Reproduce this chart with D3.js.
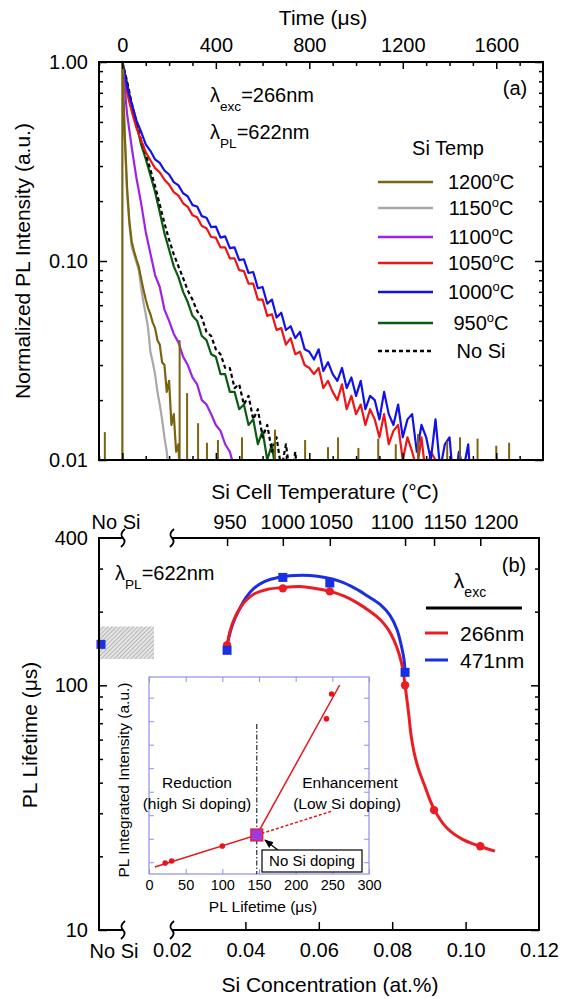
<!DOCTYPE html>
<html>
<head>
<meta charset="utf-8">
<script src="https://cdn.jsdelivr.net/npm/d3@7"></script>
<style>
  body { margin: 0; background: #fff; }
  svg text { font-family: "Liberation Sans", Arial, Helvetica, sans-serif; fill: #000; }
</style>
</head>
<body>
<svg id="fig" width="570" height="999"></svg>
<script>
// ---------------- Panel (a): PL decay curves ----------------
const timeTicks = [0, 400, 800, 1200, 1600];
const timeMinorTicks = [-100, 100, 200, 300, 500, 600, 700, 900, 1000, 1100, 1300, 1400, 1500, 1700];
const intensityTicks = [0.01, 0.1, 1];
const intensityMinorTicks = [0.02, 0.03, 0.04, 0.05, 0.06, 0.07, 0.08, 0.09, 0.2, 0.3, 0.4, 0.5, 0.6, 0.7, 0.8, 0.9];

// sampling interval of each recorded decay (µs)
const step1200 = 10, step1150 = 10, step1100 = 20, step1050 = 20, step1000 = 20, step950 = 20, stepNoSi = 20;

const pl1200 = [1.0, 0.44, 0.235, 0.158, 0.125, 0.112, 0.102, 0.094, 0.082, 0.072, 0.064, 0.058, 0.054, 0.049,
  0.046, 0.040, 0.038, 0.031, 0.030, 0.022, 0.025, 0.015, 0.017, 0.011, 0.012, 0.006];
const pl1150 = [1.0, 0.42, 0.22, 0.152, 0.118, 0.108, 0.099, 0.090, 0.074, 0.062, 0.054, 0.046, 0.035, 0.031,
  0.027, 0.022, 0.019, 0.016, 0.013, 0.011, 0.008, 0.005];
const pl1100 = [1.0, 0.55, 0.372, 0.262, 0.196, 0.140, 0.109, 0.085, 0.074, 0.057, 0.050, 0.043, 0.039, 0.033,
  0.030, 0.026, 0.024, 0.020, 0.019, 0.017, 0.015, 0.014, 0.012, 0.011, 0.009, 0.0095, 0.007];
const pl1050 = [1.0, 0.70, 0.565, 0.468, 0.405, 0.352, 0.321, 0.293, 0.279, 0.256, 0.242, 0.222, 0.213, 0.195,
  0.187, 0.170, 0.166, 0.150, 0.146, 0.132, 0.131, 0.117, 0.117, 0.103, 0.103, 0.090, 0.089, 0.077, 0.077,
  0.064, 0.064, 0.053, 0.054, 0.045, 0.046, 0.038, 0.041, 0.034, 0.035, 0.030, 0.029, 0.027, 0.029, 0.023,
  0.025, 0.022, 0.020, 0.024, 0.018, 0.021, 0.017, 0.019, 0.015, 0.018, 0.016, 0.013, 0.017, 0.012, 0.014,
  0.015, 0.010, 0.013, 0.011, 0.009, 0.013, 0.008, 0.011, 0.010, 0.006, 0.010, 0.007, 0.005];
const pl1000 = [1.0, 0.752, 0.621, 0.509, 0.447, 0.386, 0.358, 0.324, 0.311, 0.285, 0.272, 0.249, 0.240, 0.219,
  0.211, 0.191, 0.188, 0.168, 0.165, 0.148, 0.149, 0.131, 0.133, 0.116, 0.117, 0.101, 0.102, 0.087, 0.088,
  0.073, 0.074, 0.061, 0.064, 0.052, 0.055, 0.045, 0.047, 0.041, 0.044, 0.036, 0.035, 0.032, 0.036, 0.028,
  0.031, 0.027, 0.025, 0.029, 0.023, 0.026, 0.021, 0.025, 0.018, 0.021, 0.020, 0.016, 0.022, 0.017, 0.015,
  0.019, 0.013, 0.016, 0.017, 0.011, 0.015, 0.013, 0.010, 0.016, 0.009, 0.012, 0.013, 0.007, 0.011, 0.009,
  0.012, 0.005, 0.010];
const pl950 = [1.0, 0.786, 0.598, 0.486, 0.386, 0.326, 0.270, 0.222, 0.176, 0.138, 0.114, 0.094, 0.083, 0.070,
  0.062, 0.053, 0.050, 0.042, 0.040, 0.034, 0.033, 0.027, 0.027, 0.022, 0.022, 0.018, 0.019, 0.015, 0.016,
  0.012, 0.014, 0.010, 0.012, 0.008, 0.010, 0.006];
const plNoSi = [1.0, 0.80, 0.62, 0.50, 0.405, 0.345, 0.288, 0.238, 0.192, 0.155, 0.128, 0.108, 0.094, 0.082,
  0.071, 0.064, 0.056, 0.052, 0.044, 0.042, 0.036, 0.034, 0.029, 0.029, 0.023, 0.024, 0.019, 0.021, 0.016,
  0.018, 0.013, 0.015, 0.011, 0.013, 0.009, 0.012, 0.008, 0.011, 0.006];

// isolated counts in the 1200°C record, sitting on the noise floor
const spike1200Time = [-75, 245, 277, 324, 362, 409, 512, 653, 782, 880, 923, 1010, 1095, 1170, 1265, 1390, 1445, 1520, 1600, 1655];
const spike1200Value = [0.0138, 0.040, 0.0217, 0.0153, 0.0122, 0.0126, 0.013, 0.0142, 0.0126, 0.0116, 0.013,
  0.0115, 0.0128, 0.012, 0.0135, 0.0124, 0.013, 0.0128, 0.0118, 0.0122];

const legendLabels = ["1200", "1150", "1100", "1050", "1000", "950", "No Si"];

// ---------------- Panel (b): lifetime vs Si concentration ----------------
const concTicks = [0.04, 0.06, 0.08, 0.10];
const concLabels = [0.02, 0.04, 0.06, 0.08, 0.10, 0.12];
const lifetimeLabels = [10, 100, 400];
const lifetimeMajor = [10, 100];
const lifetimeMinor = [20, 30, 40, 50, 60, 70, 80, 90, 200, 300];
const cellTemps = ["950", "1000", "1050", "1100", "1150", "1200"];
const cellTempConc = [0.035, 0.0502, 0.063, 0.0835, 0.0914, 0.104];
const cellTempLabelConc = [0.0358, 0.0502, 0.0633, 0.080, 0.0944, 0.1083];

const concRed = [0.035, 0.0502, 0.063, 0.0835, 0.0914, 0.104];
const lifeRed = [146, 249, 242, 100, 30.9, 22.0];
const concBlue = [0.035, 0.0502, 0.063, 0.0835];
const lifeBlue = [139, 276, 262, 113];
const noSiLifeBlue = 147;
const noSiLifeRange = [128, 174];

const fitRedConc = [0.0350, 0.0358, 0.0369, 0.0385, 0.0404, 0.0426, 0.0459, 0.0502, 0.0549, 0.0590, 0.0631,
  0.0671, 0.0707, 0.0740, 0.0767, 0.0789, 0.0805, 0.0819, 0.0829, 0.0835, 0.0840, 0.0846, 0.0851, 0.0859,
  0.0870, 0.0887, 0.0914, 0.0949, 0.0993, 0.1039, 0.1080];
const fitRedLife = [146, 166.1, 185.8, 206.3, 224.2, 237.3, 246.5, 251.2, 253.6, 248.9, 242.0, 230.9, 216.2,
  200.2, 185.8, 169.2, 152.6, 133.9, 116.2, 100, 87.7, 74.0, 63.1, 53.8, 46.3, 39.4, 31.2, 26.1, 23.4, 22.0, 21.0];
const fitBlueConc = [0.0350, 0.0355, 0.0366, 0.0383, 0.0402, 0.0423, 0.0453, 0.0489, 0.0535, 0.0576, 0.0617,
  0.0658, 0.0699, 0.0734, 0.0767, 0.0794, 0.0813, 0.0824, 0.0832, 0.0835];
const fitBlueLife = [139, 157, 179, 204, 229, 249, 266, 276, 281, 281, 276, 266, 249, 231, 214, 193, 169, 147, 128, 113];

// inset: integrated intensity vs lifetime
const insetLifeTicks = [0, 50, 100, 150, 200, 250, 300];
const insetIntTicks = [0.5, 1.5, 2.5, 3.5, 4.5, 5.5, 6.5, 7.5];
const insetLife = [22, 31, 100, 242, 249];
const insetInt = [0.47, 0.55, 1.19, 6.6, 7.66];
const noSiInset = [147, 1.66];
const lowFitLife = [8, 147], lowFitInt = [0.30, 1.66];
const highFitLife = [147, 260], highFitInt = [1.66, 8.04];
const extFitLife = [147, 250], extFitInt = [1.66, 2.68];

// =====================================================================
const svg = d3.select("#fig");
const defs = svg.append("defs");

function styleAxis(g, size) {
  g.select(".domain").remove();
  g.selectAll("line").attr("stroke", "#000").attr("stroke-width", 1.5);
  g.selectAll("text").style("font-size", size + "px");
}

// ---------- panel (a) ----------
const A = { l: 99, r: 543, t: 62, b: 460 };
const x = d3.scaleLinear().domain([-100, 1800]).range([A.l, A.r]);
const y = d3.scaleLog().domain([0.01, 1]).range([A.b, A.t]);

defs.append("clipPath").attr("id", "clipA").append("rect")
  .attr("x", A.l).attr("y", A.t).attr("width", A.r - A.l).attr("height", A.b - A.t);

const gA = svg.append("g");
const curves = gA.append("g").attr("clip-path", "url(#clipA)");

const series = [
  { values: pl950, step: step950, color: "#0a5a10" },
  { values: plNoSi, step: stepNoSi, color: "#000", dash: "4,3" },
  { values: pl1050, step: step1050, color: "#ec1616" },
  { values: pl1000, step: step1000, color: "#1212e8" },
  { values: pl1100, step: step1100, color: "#9c22e6" },
  { values: pl1150, step: step1150, color: "#a8a8a8" },
  { values: pl1200, step: step1200, color: "#7a6410", rise: true }
];
const line = d3.line().x(d => x(d[0])).y(d => y(d[1]));
const floorValue = 0.005;
series.forEach(s => {
  let pts = s.values.map((v, i) => [i * s.step, v]);
  if (s.rise) pts = [[0, floorValue]].concat(pts);
  curves.append("path").attr("d", line(pts)).attr("fill", "none")
    .attr("stroke", s.color).attr("stroke-width", 2.2)
    .attr("stroke-linejoin", "round")
    .attr("stroke-dasharray", s.dash || null);
});
curves.selectAll(".spike").data(spike1200Time.map((t, i) => [t, spike1200Value[i]]))
  .join("line").attr("x1", d => x(d[0])).attr("x2", d => x(d[0]))
  .attr("y1", y(0.01)).attr("y2", d => y(d[1]))
  .attr("stroke", "#7a6410").attr("stroke-width", 2);

// axes (ticks point inward)
gA.append("g").attr("transform", `translate(0,${A.t})`)
  .call(d3.axisTop(x).tickValues(timeTicks).tickSizeInner(-7).tickSizeOuter(0).tickPadding(10).tickFormat(d3.format("d")))
  .call(g => styleAxis(g, 20));
gA.append("g").attr("transform", `translate(0,${A.t})`)
  .call(d3.axisTop(x).tickValues(timeMinorTicks).tickSizeInner(-4).tickSizeOuter(0).tickFormat(""))
  .call(g => styleAxis(g, 20));
gA.append("g").attr("transform", `translate(0,${A.b})`)
  .call(d3.axisBottom(x).tickValues(timeTicks).tickSizeInner(-7).tickSizeOuter(0).tickFormat(""))
  .call(g => styleAxis(g, 20));
gA.append("g").attr("transform", `translate(0,${A.b})`)
  .call(d3.axisBottom(x).tickValues(timeMinorTicks).tickSizeInner(-4).tickSizeOuter(0).tickFormat(""))
  .call(g => styleAxis(g, 20));
gA.append("g").attr("transform", `translate(${A.l},0)`)
  .call(d3.axisLeft(y).tickValues(intensityTicks).tickSizeInner(-8).tickSizeOuter(0).tickPadding(11).tickFormat(d3.format(".2f")))
  .call(g => styleAxis(g, 20));
gA.append("g").attr("transform", `translate(${A.l},0)`)
  .call(d3.axisLeft(y).tickValues(intensityMinorTicks).tickSizeInner(-4).tickSizeOuter(0).tickFormat(""))
  .call(g => styleAxis(g, 20));
gA.append("g").attr("transform", `translate(${A.r},0)`)
  .call(d3.axisRight(y).tickValues(intensityTicks).tickSizeInner(-8).tickSizeOuter(0).tickFormat(""))
  .call(g => styleAxis(g, 20));
gA.append("g").attr("transform", `translate(${A.r},0)`)
  .call(d3.axisRight(y).tickValues(intensityMinorTicks).tickSizeInner(-4).tickSizeOuter(0).tickFormat(""))
  .call(g => styleAxis(g, 20));
gA.append("rect").attr("x", A.l).attr("y", A.t).attr("width", A.r - A.l).attr("height", A.b - A.t)
  .attr("fill", "none").attr("stroke", "#000").attr("stroke-width", 2);

gA.append("text").attr("x", 323).attr("y", 25).attr("text-anchor", "middle")
  .style("font-size", "21px").text("Time (μs)");
gA.append("text").attr("transform", "translate(30,261) rotate(-90)").attr("text-anchor", "middle")
  .style("font-size", "21px").text("Normalized PL Intensity (a.u.)");
gA.append("text").attr("x", 515).attr("y", 95).attr("text-anchor", "middle")
  .style("font-size", "20px").text("(a)");

function lambdaText(g, px, py, sub, rest, size) {
  const t = g.append("text").attr("x", px).attr("y", py).style("font-size", size + "px");
  t.append("tspan").text("λ");
  t.append("tspan").attr("dy", 9).style("font-size", (size * 0.68) + "px").text(sub);
  t.append("tspan").attr("dy", -9).text(rest);
  return t;
}
lambdaText(gA, 210, 102, "exc", "=266nm", 20);
lambdaText(gA, 210, 139, "PL", "=622nm", 20);

// legend
const legRowY = [182, 208, 237, 263, 292, 323, 351];
gA.append("text").attr("x", 448).attr("y", 155).attr("text-anchor", "middle")
  .style("font-size", "20px").text("Si Temp");
const legendSeries = [series[6], series[5], series[4], series[2], series[3], series[0], series[1]];
legendLabels.forEach((lab, i) => {
  const s = legendSeries[i];
  gA.append("line").attr("x1", 378).attr("x2", 433).attr("y1", legRowY[i]).attr("y2", legRowY[i])
    .attr("stroke", s.color).attr("stroke-width", 2.6).attr("stroke-dasharray", s.dash || null);
  const t = gA.append("text").attr("x", 481).attr("y", legRowY[i] + 7).attr("text-anchor", "middle")
    .style("font-size", "20px");
  if (lab === "No Si") { t.text(lab); return; }
  t.append("tspan").text(lab);
  t.append("tspan").attr("dy", -8).style("font-size", "13px").text("o");
  t.append("tspan").attr("dy", 8).text("C");
});

// ---------- panel (b) ----------
const B = { l: 99, r: 539, t: 538, b: 930 };
const breakL = 123, breakR = 172;
const xc = d3.scaleLinear().domain([0.02, 0.12]).range([breakR, B.r]);
const yl = d3.scaleLog().domain([10, 400]).range([B.b, B.t]);
// the undoped reference sits on its own short segment left of the axis break
const xNoSi = d3.scalePoint().domain(["No Si"]).range([B.l, breakL]).align(0);
const gB = svg.append("g");

// hatched band for the undoped reference
const pat = defs.append("pattern").attr("id", "hatch").attr("patternUnits", "userSpaceOnUse")
  .attr("width", 3).attr("height", 3).attr("patternTransform", "rotate(45)");
pat.append("rect").attr("width", 3).attr("height", 3).attr("fill", "#e4e4e4");
pat.append("line").attr("x1", 0).attr("y1", 0).attr("x2", 0).attr("y2", 3)
  .attr("stroke", "#8c8c8c").attr("stroke-width", 1);
gB.append("rect").attr("x", B.l).attr("y", yl(noSiLifeRange[1]))
  .attr("width", 154 - B.l).attr("height", yl(noSiLifeRange[0]) - yl(noSiLifeRange[1]))
  .attr("fill", "url(#hatch)");

// fitted curves
const fitLine = d3.line().x(d => xc(d[0])).y(d => yl(d[1])).curve(d3.curveCatmullRom);
gB.append("path").attr("d", fitLine(fitBlueConc.map((c, i) => [c, fitBlueLife[i]])))
  .attr("fill", "none").attr("stroke", "#1a2fe0").attr("stroke-width", 3);
gB.append("path").attr("d", fitLine(fitRedConc.map((c, i) => [c, fitRedLife[i]])))
  .attr("fill", "none").attr("stroke", "#ec1c24").attr("stroke-width", 3);

gB.selectAll(".rdot").data(concRed.map((c, i) => [c, lifeRed[i]])).join("circle")
  .attr("cx", d => xc(d[0])).attr("cy", d => yl(d[1])).attr("r", 4.2).attr("fill", "#ec1c24");
const sq = 9;
gB.selectAll(".bsq").data(concBlue.map((c, i) => [c, lifeBlue[i]])).join("rect")
  .attr("x", d => xc(d[0]) - sq / 2).attr("y", d => yl(d[1]) - sq / 2)
  .attr("width", sq).attr("height", sq).attr("fill", "#1a2fe0");
gB.append("rect").attr("x", xNoSi("No Si") - sq / 2 + 2).attr("y", yl(noSiLifeBlue) - sq / 2)
  .attr("width", sq).attr("height", sq).attr("fill", "#1a2fe0");

// axes
gB.append("g").attr("transform", `translate(0,${B.b})`)
  .call(d3.axisBottom(xc).tickValues(concTicks).tickSizeInner(-8).tickSizeOuter(0).tickFormat(""))
  .call(g => styleAxis(g, 20));
gB.append("g").attr("transform", `translate(0,${B.b})`)
  .call(d3.axisBottom(xc).tickValues(concLabels).tickSize(0).tickPadding(13).tickFormat(d3.format(".2f")))
  .call(g => styleAxis(g, 20));
gB.append("g").attr("transform", `translate(0,${B.t})`)
  .call(d3.axisTop(xc).tickValues(cellTempConc).tickSizeInner(-8).tickSizeOuter(0).tickFormat(""))
  .call(g => styleAxis(g, 20));
gB.append("g").selectAll("text").data(cellTemps).join("text")
  .attr("x", (d, i) => xc(cellTempLabelConc[i])).attr("y", 529).attr("text-anchor", "middle")
  .style("font-size", "20px").text(d => d);
gB.append("text").attr("x", 116).attr("y", 529).attr("text-anchor", "middle").style("font-size", "20px").text("No Si");
gB.append("text").attr("x", 114).attr("y", 958).attr("text-anchor", "middle").style("font-size", "20px").text("No Si");

gB.append("g").attr("transform", `translate(${B.l},0)`)
  .call(d3.axisLeft(yl).tickValues(lifetimeMajor).tickSizeInner(-8).tickSizeOuter(0).tickFormat(""))
  .call(g => styleAxis(g, 20));
gB.append("g").attr("transform", `translate(${B.l},0)`)
  .call(d3.axisLeft(yl).tickValues(lifetimeMinor).tickSizeInner(-4).tickSizeOuter(0).tickFormat(""))
  .call(g => styleAxis(g, 20));
gB.append("g").attr("transform", `translate(${B.l},0)`)
  .call(d3.axisLeft(yl).tickValues(lifetimeLabels).tickSize(0).tickPadding(11).tickFormat(d3.format("d")))
  .call(g => styleAxis(g, 20));
gB.append("g").attr("transform", `translate(${B.r},0)`)
  .call(d3.axisRight(yl).tickValues(lifetimeMajor).tickSizeInner(-8).tickSizeOuter(0).tickFormat(""))
  .call(g => styleAxis(g, 20));
gB.append("g").attr("transform", `translate(${B.r},0)`)
  .call(d3.axisRight(yl).tickValues(lifetimeMinor).tickSizeInner(-4).tickSizeOuter(0).tickFormat(""))
  .call(g => styleAxis(g, 20));

// frame with axis breaks between the undoped point and the doped range
const frame = d3.path();
frame.moveTo(breakL, B.t); frame.lineTo(B.l, B.t); frame.lineTo(B.l, B.b); frame.lineTo(breakL, B.b);
frame.moveTo(breakR, B.b); frame.lineTo(B.r, B.b); frame.lineTo(B.r, B.t); frame.lineTo(breakR, B.t);
gB.append("path").attr("d", frame.toString()).attr("fill", "none").attr("stroke", "#000").attr("stroke-width", 2);
[breakL, breakR].forEach(bx => [B.t, B.b].forEach(by => {
  gB.append("path")
    .attr("d", `M${bx + 2},${by - 9} Q${bx - 4},${by - 4} ${bx},${by} Q${bx + 4},${by + 4} ${bx - 2},${by + 9}`)
    .attr("fill", "none").attr("stroke", "#000").attr("stroke-width", 1.8);
}));

gB.append("text").attr("x", 325).attr("y", 499).attr("text-anchor", "middle")
  .style("font-size", "21px").text("Si Cell Temperature (°C)");
gB.append("text").attr("x", 330).attr("y", 992).attr("text-anchor", "middle")
  .style("font-size", "21px").text("Si Concentration (at.%)");
gB.append("text").attr("transform", "translate(37,735) rotate(-90)").attr("text-anchor", "middle")
  .style("font-size", "21px").text("PL Lifetime (μs)");
gB.append("text").attr("x", 514).attr("y", 572).attr("text-anchor", "middle")
  .style("font-size", "20px").text("(b)");
lambdaText(gB, 115, 580, "PL", "=622nm", 20);

// legend (b)
const lg = gB.append("g");
const lt = lg.append("text").attr("x", 470).attr("y", 588).attr("text-anchor", "middle").style("font-size", "21px");
lt.append("tspan").text("λ");
lt.append("tspan").attr("dy", 9).style("font-size", "14px").text("exc");
lg.append("line").attr("x1", 426).attr("x2", 522).attr("y1", 608).attr("y2", 608).attr("stroke", "#000").attr("stroke-width", 3);
[["266nm", "#ec1c24", 633], ["471nm", "#1a2fe0", 660]].forEach(([lab, col, ly]) => {
  lg.append("line").attr("x1", 425).attr("x2", 448).attr("y1", ly).attr("y2", ly).attr("stroke", col).attr("stroke-width", 3);
  lg.append("text").attr("x", 460).attr("y", ly + 8).style("font-size", "21px").text(lab);
});

// ---------- inset ----------
const I = { l: 149, r: 369, t: 677, b: 874 };
const xi = d3.scaleLinear().domain([0, 300]).range([I.l, I.r]);
const yi = d3.scaleLinear().domain([0, 8.38]).range([I.b, I.t]);
const gI = svg.append("g");
const insetAxisColor = "#8f8fe8";
gI.append("rect").attr("x", I.l).attr("y", I.t).attr("width", I.r - I.l).attr("height", I.b - I.t)
  .attr("fill", "#fff");
function insetAxis(g) {
  g.select(".domain").remove();
  g.selectAll("line").attr("stroke", insetAxisColor).attr("stroke-width", 1);
  g.selectAll("text").style("font-size", "14.5px");
}
gI.append("g").attr("transform", `translate(0,${I.b})`)
  .call(d3.axisBottom(xi).tickValues(insetLifeTicks).tickSizeInner(-5).tickSizeOuter(0).tickPadding(6)).call(insetAxis);
gI.append("g").attr("transform", `translate(0,${I.t})`)
  .call(d3.axisTop(xi).tickValues(insetLifeTicks).tickSizeInner(-5).tickSizeOuter(0).tickFormat("")).call(insetAxis);
gI.append("g").attr("transform", `translate(${I.l},0)`)
  .call(d3.axisLeft(yi).tickValues(insetIntTicks).tickSizeInner(-5).tickSizeOuter(0).tickFormat("")).call(insetAxis);
gI.append("g").attr("transform", `translate(${I.r},0)`)
  .call(d3.axisRight(yi).tickValues(insetIntTicks).tickSizeInner(-5).tickSizeOuter(0).tickFormat("")).call(insetAxis);
gI.append("rect").attr("x", I.l).attr("y", I.t).attr("width", I.r - I.l).attr("height", I.b - I.t)
  .attr("fill", "none").attr("stroke", insetAxisColor).attr("stroke-width", 1.2);

gI.append("line").attr("x1", xi(noSiInset[0])).attr("x2", xi(noSiInset[0]))
  .attr("y1", 724).attr("y2", I.b).attr("stroke", "#000").attr("stroke-width", 1)
  .attr("stroke-dasharray", "5,2,1.5,2");
const seg = (lx, ly) => d3.line()(lx.map((v, i) => [xi(v), yi(ly[i])]));
gI.append("path").attr("d", seg(lowFitLife, lowFitInt)).attr("stroke", "#e8141c").attr("stroke-width", 1.5).attr("fill", "none");
gI.append("path").attr("d", seg(highFitLife, highFitInt)).attr("stroke", "#e8141c").attr("stroke-width", 1.5).attr("fill", "none");
gI.append("path").attr("d", seg(extFitLife, extFitInt)).attr("stroke", "#e8141c").attr("stroke-width", 1.5)
  .attr("stroke-dasharray", "3,2").attr("fill", "none");
gI.selectAll(".idot").data(insetLife.map((v, i) => [v, insetInt[i]])).join("circle")
  .attr("cx", d => xi(d[0])).attr("cy", d => yi(d[1])).attr("r", 2.8).attr("fill", "#e8141c");
gI.append("rect").attr("x", xi(noSiInset[0]) - 6).attr("y", yi(noSiInset[1]) - 6).attr("width", 12).attr("height", 12)
  .attr("fill", "#a03ad8").attr("stroke", "#e0202a").attr("stroke-width", 1.2);

defs.append("marker").attr("id", "arr").attr("viewBox", "0 0 10 10").attr("refX", 9).attr("refY", 5)
  .attr("markerWidth", 7).attr("markerHeight", 7).attr("orient", "auto")
  .append("path").attr("d", "M0,1 L10,5 L0,9 Z").attr("fill", "#000");
gI.append("line").attr("x1", 279).attr("y1", 851).attr("x2", 265).attr("y2", 840)
  .attr("stroke", "#000").attr("stroke-width", 1.3).attr("marker-end", "url(#arr)");
gI.append("rect").attr("x", 262).attr("y", 850).attr("width", 100).attr("height", 22)
  .attr("fill", "#fff").attr("stroke", "#000").attr("stroke-width", 1.2);
gI.append("text").attr("x", 312).attr("y", 866).attr("text-anchor", "middle").style("font-size", "15px").text("No Si doping");

gI.append("text").attr("x", 197).attr("y", 788).attr("text-anchor", "middle").style("font-size", "15.5px").text("Reduction");
gI.append("text").attr("x", 197).attr("y", 809).attr("text-anchor", "middle").style("font-size", "15.5px").text("(high Si doping)");
gI.append("text").attr("x", 350).attr("y", 788).attr("text-anchor", "middle").style("font-size", "15.5px").text("Enhancement");
gI.append("text").attr("x", 347).attr("y", 809).attr("text-anchor", "middle").style("font-size", "15.5px").text("(Low Si doping)");
gI.append("text").attr("x", 263).attr("y", 912).attr("text-anchor", "middle").style("font-size", "15.5px").text("PL Lifetime (μs)");
gI.append("text").attr("transform", "translate(129,780) rotate(-90)").attr("text-anchor", "middle")
  .style("font-size", "15.5px").text("PL Integrated Intensity (a.u.)");
</script>
</body>
</html>
